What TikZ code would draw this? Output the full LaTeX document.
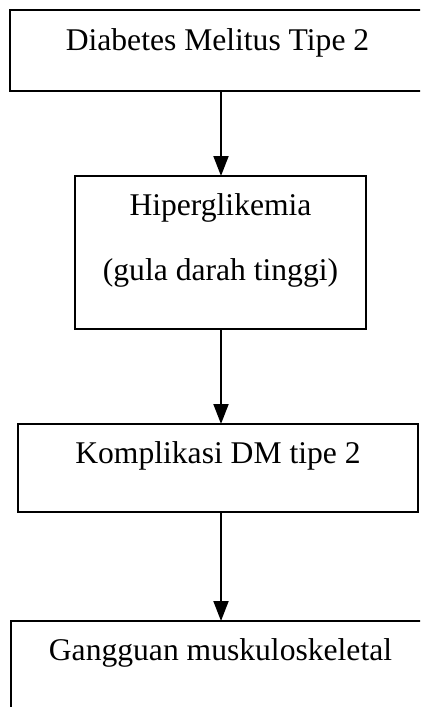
\documentclass[tikz,border=0pt]{standalone}
\usepackage{fontspec}
\setmainfont{Liberation Serif}
\usetikzlibrary{arrows.meta}
\begin{document}
\begin{tikzpicture}[x=0.5pt,y=-0.5pt,
  box/.style={draw, line width=0.95pt, rectangle, inner sep=0pt, outer sep=0pt, anchor=north west},
  label/.style={anchor=base, inner sep=0pt, font=\fontsize{15.8}{19}\selectfont},
  flow/.style={line width=0.95pt, -{Triangle[width=7.5pt,length=10pt]}}]
\useasboundingbox (0,0) rectangle (420,707);
\clip (0,0) rectangle (420,707);
\fill[white] (0,0) rectangle (420,707);
% boxes
\node[box, minimum width=207.5pt, minimum height=40.5pt] (b1) at (10,10) {};
\node[box, minimum width=145.5pt, minimum height=76.5pt] (b2) at (75,176) {};
\node[box, minimum width=200pt, minimum height=44pt] (b3) at (18,424) {};
\node[box, minimum width=209.5pt, minimum height=69.5pt] (b4) at (11,621) {};
% texts
\node[label] (t1) at (217.5,50) {Diabetes Melitus Tipe 2};
\node[label] (t2a) at (220.5,215) {Hiperglikemia};
\node[label] (t2b) at (220.5,280) {(gula darah tinggi)};
\node[label] (t3) at (218,463) {Komplikasi DM tipe 2};
\node[label] (t4) at (220.5,660) {Gangguan muskuloskeletal};
% connectors along one vertical axis
\coordinate (axis) at (221,0);
\draw[flow] (b1.south -| axis) -- (b2.north -| axis);
\draw[flow] (b2.south -| axis) -- (b3.north -| axis);
\draw[flow] (b3.south -| axis) -- (b4.north -| axis);
\end{tikzpicture}
\end{document}
